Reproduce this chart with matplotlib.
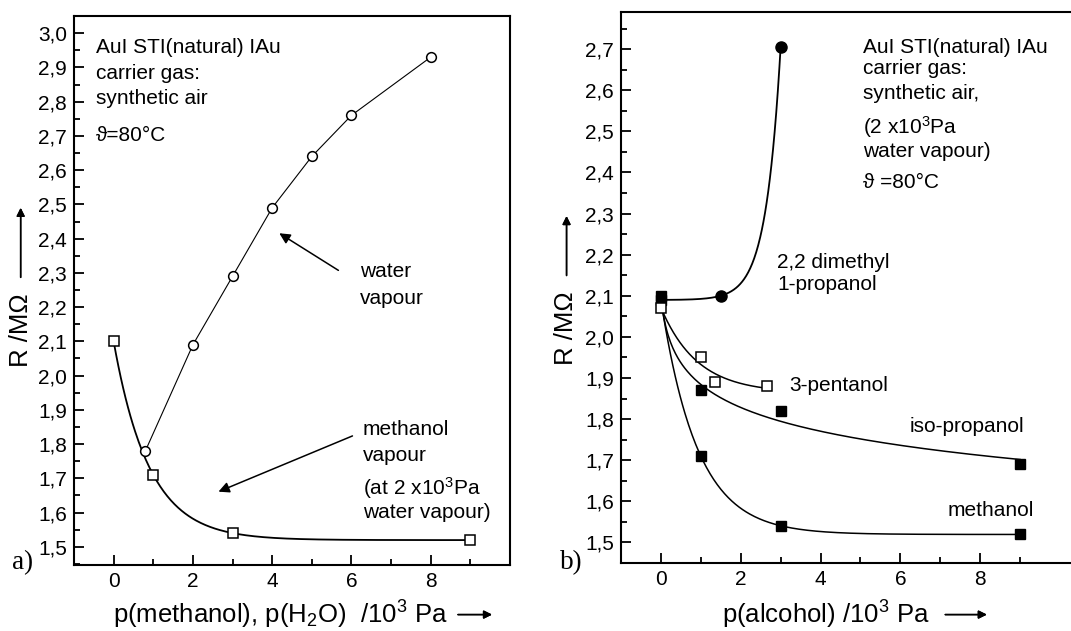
import numpy as np
import matplotlib
matplotlib.use('Agg')
import matplotlib.pyplot as plt
from matplotlib.ticker import FixedLocator, MultipleLocator, FuncFormatter

plt.rcParams['font.family'] = ['Liberation Sans', 'DejaVu Sans']
plt.rcParams['mathtext.default'] = 'regular'

# panel a) data
water_x = [0.8, 2, 3, 4, 5, 6, 8]
water_y = [1.78, 2.09, 2.29, 2.49, 2.64, 2.76, 2.93]
meoh_a_x = [0, 1, 3, 9]
meoh_a_y = [2.10, 1.71, 1.54, 1.52]

# panel b) data
dimethyl_x = [0, 1.5, 3]
dimethyl_y = [2.09, 2.10, 2.705]
pentanol_x = [0, 1, 1.35, 2.65]
pentanol_y = [2.07, 1.95, 1.89, 1.88]
iso_x = [0, 1, 3, 9]
iso_y = [2.10, 1.87, 1.82, 1.69]
meoh_b_x = [0, 1, 3, 9]
meoh_b_y = [2.09, 1.71, 1.54, 1.52]

x_ticks = [0, 2, 4, 6, 8]
x_minor = [-1, 1, 3, 5, 7, 9]


def decay(xx, t):
    return np.exp(-xx / t)


def growth(xx, t):
    return np.exp(xx / t)


def logdrop(xx, t):
    return np.log(1 + xx / t)


def fit_curve(x, y, basis, n=300):
    # least squares y = c + A*basis(x, t), grid search over t
    x = np.asarray(x, float)
    y = np.asarray(y, float)
    best = None
    for t in np.linspace(0.05, 5, 1000):
        M = np.column_stack([np.ones_like(x), basis(x, t)])
        coef = np.linalg.lstsq(M, y, rcond=None)[0]
        err = np.sum((M @ coef - y) ** 2)
        if best is None or err < best[0]:
            best = (err, t, coef)
    _, t, coef = best
    xs = np.linspace(x.min(), x.max(), n)
    return xs, coef[0] + coef[1] * basis(xs, t)


comma = FuncFormatter(lambda v, p: f'{v:.1f}'.replace('.', ','))

fig = plt.figure(figsize=(10.71, 6.31), dpi=100)
ax1 = fig.add_axes([0.0691, 0.1046, 0.4071, 0.870])
ax2 = fig.add_axes([0.5798, 0.1078, 0.4286, 0.873])

for ax in (ax1, ax2):
    ax.yaxis.set_major_locator(MultipleLocator(0.1))
    ax.yaxis.set_minor_locator(MultipleLocator(0.05))
    ax.xaxis.set_major_locator(FixedLocator(x_ticks))
    ax.xaxis.set_minor_locator(FixedLocator(x_minor))
    ax.yaxis.set_major_formatter(comma)
    ax.tick_params(which='both', direction='in', width=1.3, labelsize=15)
    ax.tick_params(which='major', length=7, pad=5)
    ax.tick_params(which='minor', length=4)
    for s in ax.spines.values():
        s.set_linewidth(1.5)

fs = 15
arrow = dict(arrowstyle='-|>', color='black', lw=1.1, mutation_scale=16)

# ---- panel a
ax1.set_xlim(-1, 10)
ax1.set_ylim(1.447, 3.05)
ax1.plot(water_x, water_y, '-', color='black', lw=0.8, marker='o', ms=7,
         mfc='white', mec='black', mew=1.1, zorder=3)
xs, ys = fit_curve(meoh_a_x, meoh_a_y, decay)
ax1.plot(xs, ys, color='black', lw=1.3)
ax1.plot(meoh_a_x, meoh_a_y, 's', ms=7, mfc='white', mec='black', mew=1.1, zorder=4)

ax1.text(-0.45, 2.959, 'AuI STI(natural) IAu', fontsize=fs, va='center')
ax1.text(-0.45, 2.883, 'carrier gas:', fontsize=fs, va='center')
ax1.text(-0.45, 2.810, 'synthetic air', fontsize=fs, va='center')
ax1.text(-0.45, 2.700, 'ϑ=80°C', fontsize=fs, va='center')
ax1.text(6.21, 2.303, 'water', fontsize=fs, va='center')
ax1.text(6.21, 2.225, 'vapour', fontsize=fs, va='center')
ax1.text(6.29, 1.842, 'methanol', fontsize=fs, va='center')
ax1.text(6.29, 1.768, 'vapour', fontsize=fs, va='center')
ax1.text(6.29, 1.672, '(at 2 x10$^3$Pa', fontsize=fs, va='center')
ax1.text(6.29, 1.600, 'water vapour)', fontsize=fs, va='center')
ax1.annotate('', xy=(4.12, 2.42), xytext=(5.73, 2.303), arrowprops=arrow)
ax1.annotate('', xy=(2.58, 1.658), xytext=(6.09, 1.827), arrowprops=arrow)

# ---- panel b
ax2.set_xlim(-1, 10.5)
ax2.set_ylim(1.45, 2.79)
xs, ys = fit_curve(dimethyl_x, dimethyl_y, growth)
ax2.plot(xs, ys, color='black', lw=1.3)
xs, ys = fit_curve(pentanol_x, pentanol_y, decay)
ax2.plot(xs, ys, color='black', lw=1.1)
xs, ys = fit_curve(iso_x, iso_y, logdrop)
ax2.plot(xs, ys, color='black', lw=1.1)
xs, ys = fit_curve(meoh_b_x, meoh_b_y, decay)
ax2.plot(xs, ys, color='black', lw=1.1)
ax2.plot(dimethyl_x[1:], dimethyl_y[1:], 'o', ms=8, color='black', zorder=4)
ax2.plot(iso_x, iso_y, 's', ms=7, color='black', zorder=4)
ax2.plot(meoh_b_x, meoh_b_y, 's', ms=7, color='black', zorder=4)
ax2.plot(pentanol_x, pentanol_y, 's', ms=7, mfc='white', mec='black', mew=1.1, zorder=5)

ax2.text(5.06, 2.705, 'AuI STI(natural) IAu', fontsize=fs, va='center')
ax2.text(5.06, 2.654, 'carrier gas:', fontsize=fs, va='center')
ax2.text(5.06, 2.593, 'synthetic air,', fontsize=fs, va='center')
ax2.text(5.06, 2.510, '(2 x10$^3$Pa', fontsize=fs, va='center')
ax2.text(5.06, 2.450, 'water vapour)', fontsize=fs, va='center')
ax2.text(5.06, 2.375, 'ϑ =80°C', fontsize=fs, va='center')
ax2.text(2.91, 2.180, '2,2 dimethyl', fontsize=fs, va='center')
ax2.text(2.91, 2.127, '1-propanol', fontsize=fs, va='center')
ax2.text(3.21, 1.881, '3-pentanol', fontsize=fs, va='center')
ax2.text(6.22, 1.782, 'iso-propanol', fontsize=fs, va='center')
ax2.text(7.17, 1.578, 'methanol', fontsize=fs, va='center')

# axis labels with arrows
lab = 18.5
fig.text(0.0196, 0.477, 'R /MΩ', rotation=90, fontsize=lab, ha='center', va='center')
fig.text(0.5285, 0.480, 'R /MΩ', rotation=90, fontsize=lab, ha='center', va='center')
fig.text(0.2614, 0.026, 'p(methanol), p(H$_2$O)  /10$^3$ Pa', fontsize=lab,
         ha='center', va='center')
fig.text(0.771, 0.026, 'p(alcohol) /10$^3$ Pa', fontsize=lab, ha='center', va='center')
farrow = dict(arrowstyle='-|>', color='black', lw=1.1, mutation_scale=12)
for (x0, y0), (x1, y1) in [((0.0193, 0.556), (0.0193, 0.675)),
                           ((0.529, 0.559), (0.529, 0.662)),
                           ((0.425, 0.026), (0.462, 0.026)),
                           ((0.880, 0.026), (0.924, 0.026))]:
    fig.add_artist(plt.annotate('', xy=(x1, y1), xytext=(x0, y0), xycoords='figure fraction',
                                textcoords='figure fraction', arrowprops=farrow))

fig.text(0.011, 0.108, 'a)', family='Liberation Serif', fontsize=19.5, va='center')
fig.text(0.523, 0.108, 'b)', family='Liberation Serif', fontsize=19.5, va='center')

fig.savefig('out.png', dpi=100)
